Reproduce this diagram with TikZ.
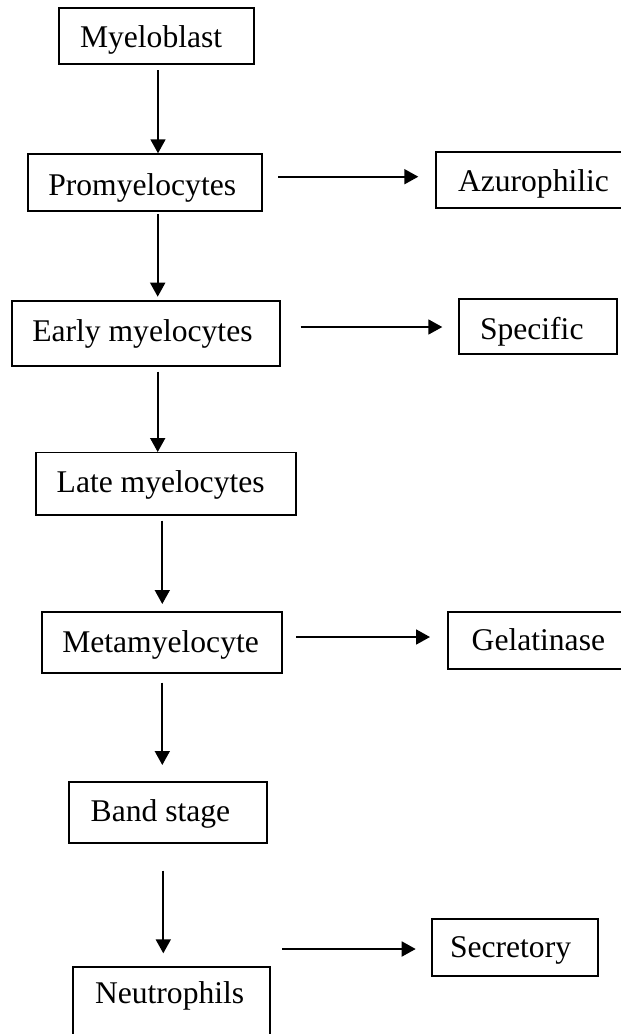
\documentclass[tikz,border=0pt]{standalone}
\usepackage{fontspec}
\setmainfont{Liberation Serif}
\usetikzlibrary{arrows.meta}
\newcommand{\padtext}[3]{\makebox[#1pt][l]{\hspace*{#2pt}#3}}
\begin{document}
\begin{tikzpicture}[x=1pt,y=-1pt,
  stage/.style={draw, line width=1.8pt, rectangle, inner xsep=0pt, inner ysep=0pt,
    outer sep=0pt, anchor=north west, font=\fontsize{31.6pt}{38pt}\selectfont},
  arr/.style={line width=1.8pt, -{Triangle[length=14pt,width=15pt]}}]
\useasboundingbox (0,0) rectangle (621,1034);

% main column
\node[stage, text height=39.4pt, text depth=16.6pt] (myelo) at (59.3,8.3) {\padtext{194.7}{20.7}{Myeloblast}};
\node[stage, text height=41pt, text depth=15.7pt] (promyelo) at (27.7,154) {\padtext{234.6}{20.6}{Promyelocytes}};
\node[stage, text height=40pt, text depth=25pt] (early) at (11.7,301) {\padtext{268.3}{20.6}{Early myelocytes}};
\node[stage, text height=40.2pt, text depth=22.3pt] (late) at (35.7,452.5) {\padtext{260.3}{21}{Late myelocytes}};
\node[stage, text height=40pt, text depth=20.4pt] (meta) at (41.7,612.3) {\padtext{240.6}{20.6}{Metamyelocyte}};
\node[stage, text height=40pt, text depth=21pt] (band) at (69.3,781.7) {\padtext{197.4}{21.4}{Band stage}};
\node[stage, text height=36.3pt, text depth=39pt] (neutro) at (73.3,966.7) {\padtext{196.7}{21.7}{Neutrophils}};

% granule column
\node[stage, text height=39.7pt, text depth=16pt] (azuro) at (435.7,152) {\padtext{190}{22.3}{Azurophilic}};
\node[stage, text height=40.3pt, text depth=14.7pt] (specific) at (459.3,299) {\padtext{157.4}{20.7}{Specific}};
\node[stage, text height=39pt, text depth=18.3pt] (gelat) at (447.7,611.7) {\padtext{178}{24}{Gelatinase}};
\node[stage, text height=38.3pt, text depth=18.4pt] (secret) at (431.7,919) {\padtext{166.6}{18.3}{Secretory}};

% guide coordinates for connector lines
\coordinate (xa) at (158,0);
\coordinate (xb) at (157.7,0);
\coordinate (xc) at (162.3,0);
\coordinate (xd) at (163.3,0);
\coordinate (ya) at (0,176.7);
\coordinate (yb) at (0,327);
\coordinate (yc) at (0,637);
\coordinate (yd) at (0,949);

% vertical arrows
\draw[arr, shorten <=5.7pt, shorten >=0.7pt] (myelo.south -| xa) -- (promyelo.north -| xa);
\draw[arr, shorten <=3.3pt, shorten >=4.3pt] (promyelo.south -| xb) -- (early.north -| xb);
\draw[arr, shorten <=5.7pt, shorten >=0.5pt] (early.south -| xb) -- (late.north -| xb);
\draw[arr, shorten <=5.7pt, shorten >=8.3pt] (late.south -| xc) -- (meta.north -| xc);
\draw[arr, shorten <=10pt, shorten >=16.7pt] (meta.south -| xc) -- (band.north -| xc);
\draw[arr, shorten <=28pt, shorten >=13.4pt] (band.south -| xd) -- (neutro.north -| xd);

% horizontal arrows
\draw[arr, shorten <=16pt, shorten >=17.4pt] (promyelo.east |- ya) -- (azuro.west |- ya);
\draw[arr, shorten <=20.5pt, shorten >=17pt] (early.east |- yb) -- (specific.west |- yb);
\draw[arr, shorten <=13.7pt, shorten >=17.7pt] (meta.east |- yc) -- (gelat.west |- yc);
\draw[arr, shorten <=12.3pt, shorten >=16pt] (neutro.east |- yd) -- (secret.west |- yd);
\end{tikzpicture}
\end{document}
